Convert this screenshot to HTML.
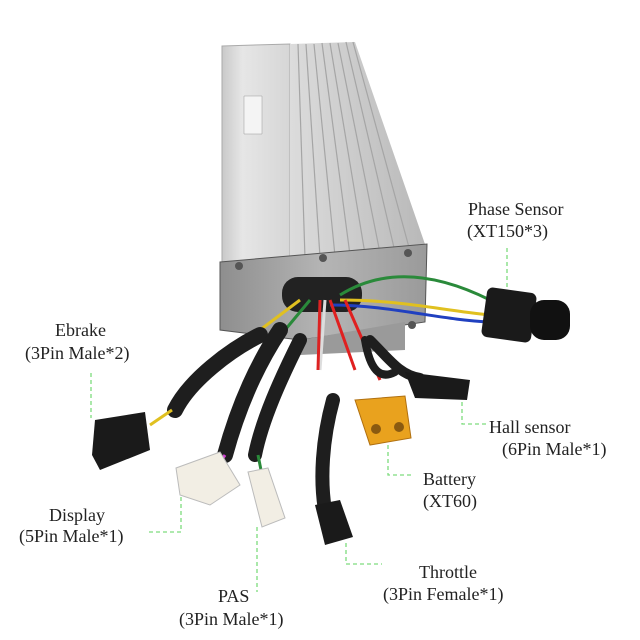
<!DOCTYPE html>
<html><head><meta charset="utf-8"><style>
html,body{margin:0;padding:0;background:#fff;}
svg{display:block}
text{font-family:"Liberation Serif",serif;font-size:18px;fill:#222}
</style></head><body>
<svg width="640" height="640" viewBox="0 0 640 640">
<defs>
<linearGradient id="side" x1="0" x2="1">
<stop offset="0" stop-color="#c9c9c9"/><stop offset="0.3" stop-color="#e6e6e6"/><stop offset="1" stop-color="#d6d6d6"/>
</linearGradient>
<linearGradient id="rib" x1="0" x2="1">
<stop offset="0" stop-color="#dcdcdc"/><stop offset="1" stop-color="#b8b8b8"/>
</linearGradient>
<linearGradient id="front" x1="0" x2="1">
<stop offset="0" stop-color="#8e8e8e"/><stop offset="0.5" stop-color="#b5b5b5"/><stop offset="1" stop-color="#9a9a9a"/>
</linearGradient>
</defs>
<!-- box left face -->
<polygon points="222,46 290,44 290,260 222,262" fill="url(#side)" stroke="#aaa"/>
<!-- ribbed right face -->
<polygon points="290,44 355,42 427,250 290,260" fill="url(#rib)"/>
<g stroke="#a5a5a5" stroke-width="1.2">
<line x1="298" y1="44" x2="305" y2="258"/><line x1="306" y1="44" x2="320" y2="257"/>
<line x1="314" y1="44" x2="335" y2="256"/><line x1="322" y1="43" x2="350" y2="255"/>
<line x1="330" y1="43" x2="365" y2="254"/><line x1="338" y1="43" x2="380" y2="253"/>
<line x1="346" y1="42" x2="395" y2="252"/><line x1="353" y1="42" x2="410" y2="251"/>
</g>
<!-- label -->
<polygon points="244,96 262,96 262,134 244,134" fill="#f4f4f4" stroke="#999" stroke-width="0.5"/>
<!-- front face -->
<polygon points="220,262 427,244 425,322 300,340 220,330" fill="url(#front)" stroke="#555"/>
<polygon points="300,340 405,322 405,350 300,355" fill="#9a9a9a"/>
<circle cx="239" cy="266" r="4" fill="#555"/><circle cx="323" cy="258" r="4" fill="#555"/><circle cx="408" cy="253" r="4" fill="#555"/><circle cx="412" cy="325" r="4" fill="#555"/>
<!-- grommet -->
<rect x="282" y="277" width="80" height="35" rx="16" fill="#222"/>
<!-- wires -->
<g fill="none" stroke-width="3">
<path d="M340,295 C380,270 430,270 490,300" stroke="#2a8a3a"/>
<path d="M340,300 C400,300 440,310 490,315" stroke="#e0c020"/>
<path d="M330,305 C390,305 440,320 490,322" stroke="#2040c0"/>
<path d="M330,300 L355,370" stroke="#e02020"/>
<path d="M325,300 L320,370" stroke="#ddd"/>
<path d="M320,300 L318,370" stroke="#d22"/>
<path d="M345,300 L380,380" stroke="#e02020"/>
<path d="M300,300 L260,330" stroke="#e0c020"/>
<path d="M310,300 L285,330" stroke="#2a8a3a"/>
</g>
<!-- black cables -->
<g fill="none" stroke="#1e1e1e" stroke-linecap="round">
<path d="M260,335 C230,350 190,380 175,410" stroke-width="16"/>
<path d="M280,330 C260,360 240,400 225,455" stroke-width="16"/>
<path d="M300,340 C280,380 262,420 255,455" stroke-width="14"/>
<path d="M333,400 C322,440 320,480 325,510" stroke-width="14"/>
<path d="M365,340 C370,370 380,380 395,372" stroke-width="8"/>
<path d="M370,340 C390,360 400,375 420,378" stroke-width="10"/>
</g>
<!-- wire tails to connectors -->
<g fill="none" stroke-width="3">
<path d="M172,410 L150,425" stroke="#e0c020"/>
<path d="M225,455 L215,470" stroke="#d040d0"/>
<path d="M258,455 L262,475" stroke="#2a8a3a"/>
</g>
<!-- Ebrake connector -->
<polygon points="95,420 145,412 150,450 100,470 92,455" fill="#1a1a1a"/>
<!-- Display connector -->
<polygon points="176,468 220,452 240,485 210,505 180,495" fill="#f2eee4" stroke="#bbb"/>
<!-- PAS connector -->
<polygon points="248,472 268,468 285,518 262,527" fill="#f2eee4" stroke="#bbb"/>
<!-- Throttle connector -->
<polygon points="315,505 340,500 353,537 325,545" fill="#1a1a1a"/>
<!-- XT60 -->
<polygon points="355,400 405,396 411,438 370,445" fill="#e9a21e" stroke="#b07010"/>
<circle cx="376" cy="429" r="5" fill="#8a5a10"/><circle cx="399" cy="427" r="5" fill="#8a5a10"/>
<!-- Hall connector -->
<polygon points="405,372 470,380 467,400 415,398" fill="#1a1a1a"/>
<!-- Phase connector -->
<rect x="484" y="290" width="50" height="50" rx="6" fill="#1a1a1a" transform="rotate(8 509 315)"/>
<rect x="530" y="300" width="40" height="40" rx="14" fill="#111"/>
<!-- leader lines -->
<g fill="none" stroke="#7ddc7d" stroke-width="1.3" stroke-dasharray="4,3">
<path d="M507,248 L507,290"/>
<path d="M462,402 L462,424 L487,424"/>
<path d="M388,445 L388,475 L412,475"/>
<path d="M346,543 L346,564 L382,564"/>
<path d="M181,497 L181,532 L147,532"/>
<path d="M257,527 L257,592"/>
<path d="M91,373 L91,418"/>
</g>
<!-- labels -->
<text x="468" y="215">Phase Sensor</text>
<text x="467" y="237">(XT150*3)</text>
<text x="55" y="336">Ebrake</text>
<text x="25" y="359">(3Pin Male*2)</text>
<text x="489" y="433">Hall sensor</text>
<text x="502" y="455">(6Pin Male*1)</text>
<text x="423" y="485">Battery</text>
<text x="423" y="507">(XT60)</text>
<text x="49" y="521">Display</text>
<text x="19" y="542">(5Pin Male*1)</text>
<text x="419" y="578">Throttle</text>
<text x="383" y="600">(3Pin Female*1)</text>
<text x="218" y="602">PAS</text>
<text x="179" y="625">(3Pin Male*1)</text>
</svg>
</body></html>
